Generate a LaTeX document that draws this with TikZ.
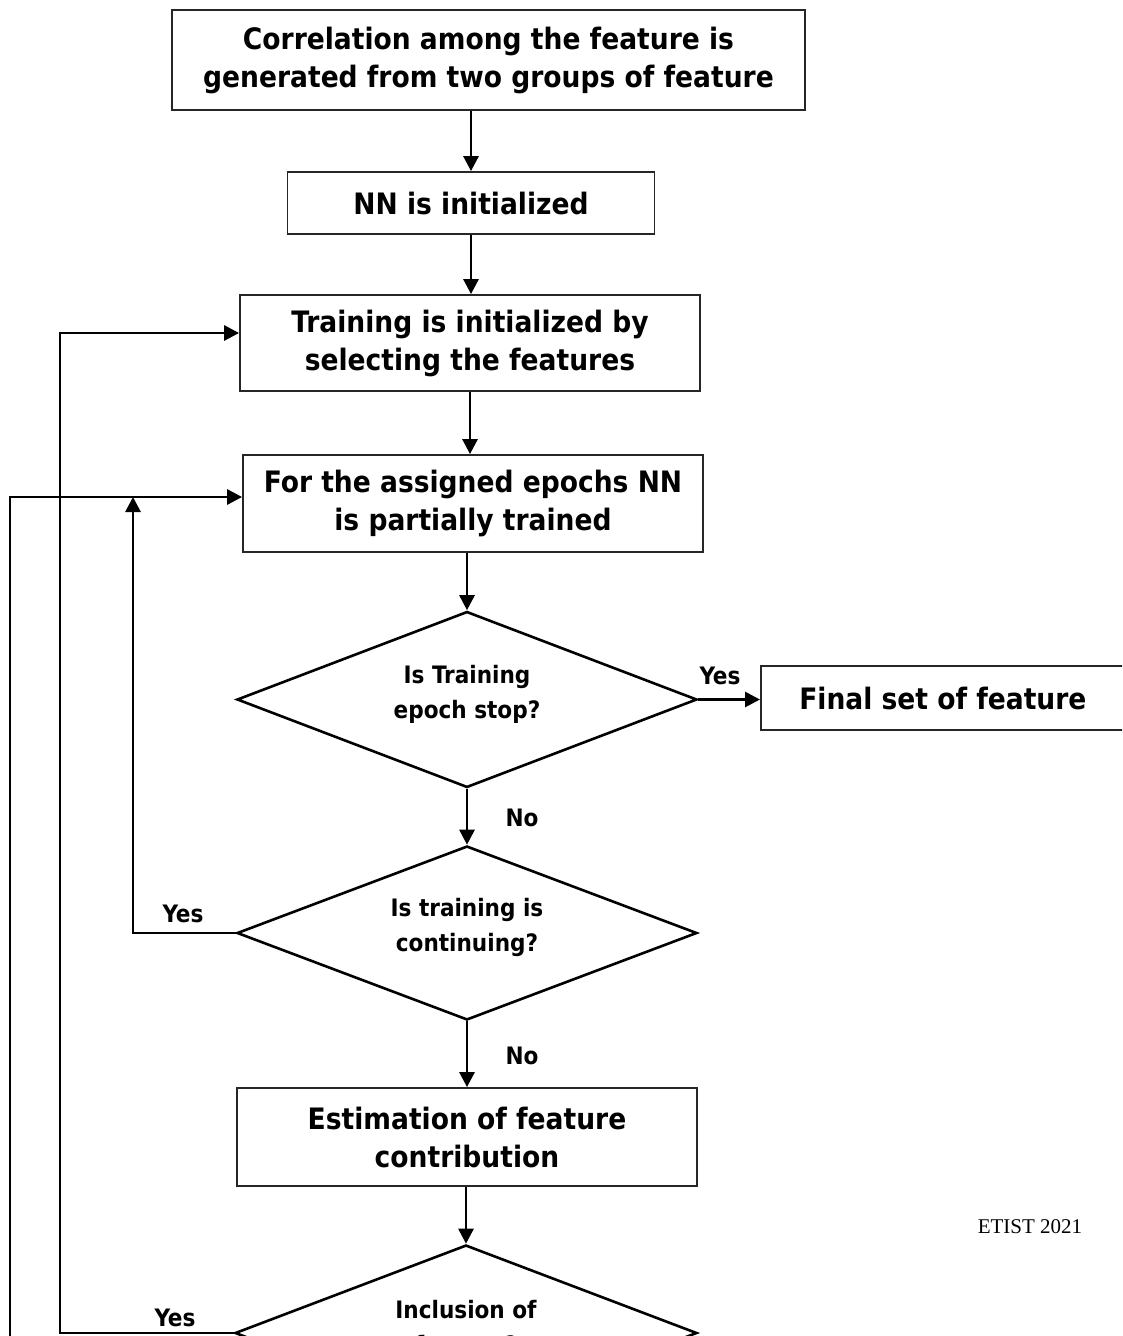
\documentclass[tikz,border=0pt]{standalone}
\usepackage{fontspec}
\setmainfont{DejaVu Sans Condensed}
\newfontfamily\serifetist{Liberation Serif}
\usetikzlibrary{shapes.geometric,arrows.meta}
\begin{document}
\begin{tikzpicture}[x=1pt,y=-1pt,
  boxnode/.style={draw=black!85,line width=1.8pt,inner sep=0pt,align=center,font=\bfseries\fontsize{29.5}{38}\selectfont},
  decnode/.style={draw,diamond,line width=2.6pt,inner sep=0pt},
  dtext/.style={inner sep=0pt,align=center,font=\bfseries\fontsize{24}{35}\selectfont},
  arr/.style={line width=2.8pt,-{Triangle[length=15pt,width=15pt]}},
  lab/.style={font=\bfseries\fontsize{24}{28}\selectfont}]
\useasboundingbox (0,0) rectangle (1122,1336);
\clip (0,0) rectangle (1122,1336);

\node[boxnode,minimum width=633pt,minimum height=100pt] (b1) at (488.5,60) {Correlation among the feature is\\generated from two groups of feature};
\node[boxnode,minimum width=367pt,minimum height=62pt] (b2) at (471,203) {NN is initialized};
\node[boxnode,minimum width=460pt,minimum height=96pt] (b3) at (470,343) {Training is initialized by\\selecting the features};
\node[boxnode,minimum width=460pt,minimum height=97pt] (b4) at (473,503.5) {For the assigned epochs NN\\is partially trained};
\node[decnode,minimum width=460pt,minimum height=176pt] (d1) at (467,699.5) {};
\node[dtext] (t1) at (467,694.5) {Is Training\\epoch stop?};
\node[boxnode,minimum width=364pt,minimum height=64pt,anchor=west] (b5) at (760,698) {Final set of feature};
\node[decnode,minimum width=460pt,minimum height=174pt] (d2) at (467,933) {};
\node[dtext] (t2) at (467,927) {Is training is\\continuing?};
\node[boxnode,minimum width=460pt,minimum height=98pt] (b6) at (467,1137) {Estimation of feature\\contribution};
\node[decnode,minimum width=462pt,minimum height=176pt] (d3) at (466,1333) {};
\node[dtext] (t3) at (466,1327.5) {Inclusion of\\feature?};

\node[lab] (y1) at (720,676) {Yes};
\node[lab] (n1) at (522,818) {No};
\node[lab] (y2) at (183,914) {Yes};
\node[lab] (n2) at (522,1056) {No};
\node[lab] (y3) at (175,1318) {Yes};
\node[font=\serifetist\fontsize{21}{24}\selectfont] (et) at (1030,1227) {ETIST 2021};

\draw[arr] (b1.south -| b2.north) -- (b2.north);
\draw[arr] (b2.south) -- (b2.south |- b3.north);
\draw[arr] (b3.south) -- (b3.south |- b4.north);
\draw[arr] (b4.south -| d1.north) -- (d1.north);
\draw[arr] (d1.east) -- (b5.west |- d1.east);
\draw[arr] (d1.south) -- (d2.north);
\draw[arr] (d2.south) -- (d2.south |- b6.north);
\draw[arr] (b6.south -| d3.north) -- (d3.north);

\coordinate (f1) at (133,497);
\coordinate (f2) at (60,333);
\coordinate (f3) at (10,1400);
\draw[arr] (d2.west) -| (f1);
\draw[arr] (d3.west) -| (f2) -- ([yshift=10pt]b3.west);
\draw[arr] (f3) |- ([yshift=6.5pt]b4.west);
\end{tikzpicture}
\end{document}
